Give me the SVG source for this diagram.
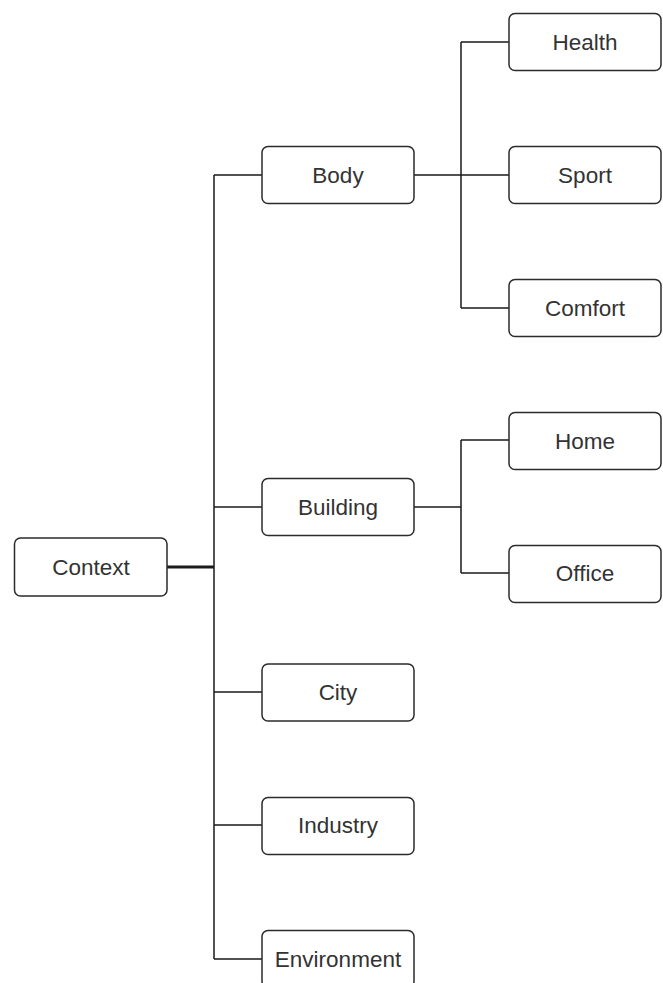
<svg xmlns="http://www.w3.org/2000/svg" width="663" height="983" viewBox="0 0 663 983">
<style>
.n rect{fill:#fff;stroke:#2b2b2b;stroke-width:1.5}
.n text{font-family:"Liberation Sans",Arial,sans-serif;font-size:22.5px;fill:#333;text-anchor:middle}
.e path{fill:none;stroke:#1a1a1a;stroke-width:1.5}
.e path.t{stroke-width:3}
</style>
<rect width="663" height="983" fill="#fff"/>
<g class="e" id="connectors">
<path class="t" d="M167 567H214"/>
<path d="M214 175V959"/>
<path d="M214 175H262M214 507H262M214 692H262M214 825H262M214 959H262"/>
<path d="M414 175H461M461 42V308M461 42H509M461 175H509M461 308H509"/>
<path d="M414 507H461M461 440V573M461 440H509M461 573H509"/>
</g>
<g class="n" id="context"><rect x="14.5" y="538" width="152.5" height="58" rx="6"/><text x="91" y="575">Context</text></g>
<g class="n" id="body"><rect x="262" y="146.5" width="152" height="57" rx="6"/><text x="338" y="183">Body</text></g>
<g class="n" id="building"><rect x="262" y="478.5" width="152" height="57" rx="6"/><text x="338" y="515">Building</text></g>
<g class="n" id="city"><rect x="262" y="664" width="152" height="57" rx="6"/><text x="338" y="700">City</text></g>
<g class="n" id="industry"><rect x="262" y="797.5" width="152" height="57" rx="6"/><text x="338" y="833">Industry</text></g>
<g class="n" id="environment"><rect x="262" y="930.5" width="152" height="57" rx="6"/><text x="338" y="967">Environment</text></g>
<g class="n" id="health"><rect x="509" y="13.5" width="152" height="57" rx="6"/><text x="585" y="50">Health</text></g>
<g class="n" id="sport"><rect x="509" y="146.5" width="152" height="57" rx="6"/><text x="585" y="183">Sport</text></g>
<g class="n" id="comfort"><rect x="509" y="279.5" width="152" height="57" rx="6"/><text x="585" y="316">Comfort</text></g>
<g class="n" id="home"><rect x="509" y="412.5" width="152" height="57" rx="6"/><text x="585" y="449">Home</text></g>
<g class="n" id="office"><rect x="509" y="545.5" width="152" height="57" rx="6"/><text x="585" y="581">Office</text></g>
</svg>
